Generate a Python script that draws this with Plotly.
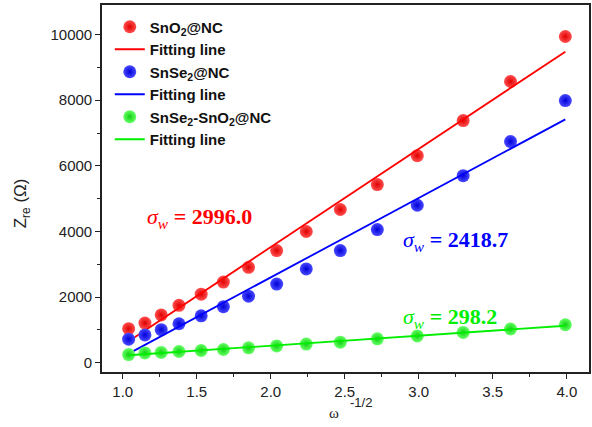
import numpy as np
import plotly.graph_objects as go

x_vals = [1.04, 1.15, 1.26, 1.38, 1.53, 1.68, 1.85, 2.04, 2.24, 2.47, 2.72, 2.99, 3.30, 3.62, 3.99]
sno2_nc = [1040, 1210, 1460, 1750, 2090, 2460, 2910, 3420, 4000, 4670, 5430, 6310, 7380, 8570, 9940]
snse2_nc = [720, 850, 1010, 1190, 1430, 1710, 2030, 2400, 2860, 3420, 4060, 4800, 5700, 6740, 7990]
snse2_sno2_nc = [250, 300, 315, 345, 375, 405, 455, 515, 570, 630, 730, 820, 925, 1030, 1160]

names = ["SnO<sub>2</sub>@NC", "SnSe<sub>2</sub>@NC", "SnSe<sub>2</sub>-SnO<sub>2</sub>@NC"]
sigma_labels = ["2996.0", "2418.7", "298.2"]
sigma_pos_x = [1.52, 3.25, 3.21]
sigma_pos_y = [4420, 3720, 1360]

colors = ["#ff0000", "#0000ff", "#00ee00"]
centers = ["#ff5050", "#4a4aff", "#66ff66"]
edges = ["#e00000", "#0000d8", "#12d012"]

fig = go.Figure()
xa = np.array(x_vals)
for name, ys, col, cen, edg in zip(names, [sno2_nc, snse2_nc, snse2_sno2_nc], colors, centers, edges):
    fig.add_trace(go.Scatter(
        x=x_vals, y=ys, mode="markers", name=name,
        marker=dict(size=13, color=cen, gradient=dict(type="radial", color=edg), line=dict(width=0)),
    ))
    k, b = np.polyfit(xa, np.array(ys, dtype=float), 1)
    xl = np.array([xa[0], xa[-1]])
    fig.add_trace(go.Scatter(
        x=xl, y=k * xl + b, mode="lines", name="Fitting line",
        line=dict(color=col, width=1.8),
    ))

for lab, px, py, col in zip(sigma_labels, sigma_pos_x, sigma_pos_y, colors):
    fig.add_annotation(
        x=px, y=py, xref="x", yref="y", showarrow=False,
        text=f"<i>σ<sub>w</sub></i><b> = {lab}</b>",
        font=dict(family="Liberation Serif", size=22, color=col),
    )

# axis titles as annotations (positioned like the reference)
fig.add_annotation(
    x=-0.164, y=0.46, xref="paper", yref="paper", showarrow=False, textangle=-90,
    xanchor="center", yanchor="middle",
    text="Z<sub>re</sub> (Ω)", font=dict(family="Liberation Sans", size=17, color="#222222"),
)
fig.add_annotation(
    x=0.476, y=-0.112, xref="paper", yref="paper", showarrow=False,
    xanchor="center", yanchor="middle",
    text="ω", font=dict(family="Liberation Serif", size=15, color="#222222"),
)
fig.add_annotation(
    x=0.532, y=-0.082, xref="paper", yref="paper", showarrow=False,
    xanchor="center", yanchor="middle",
    text="-1/2", font=dict(family="Liberation Sans", size=13, color="#222222"),
)

axis_common = dict(
    showgrid=False, zeroline=False, showline=True, linecolor="#222222", linewidth=1.6,
    mirror=True, ticks="outside", ticklen=5, tickwidth=1.3, tickcolor="#222222",
    tickfont=dict(family="Liberation Sans", size=15, color="#222222"),
)

fig.update_xaxes(
    range=[0.86, 4.15], tick0=1.0, dtick=0.5, tickformat=".1f",
    minor=dict(ticks="outside", ticklen=3, dtick=0.25, tick0=1.0, tickcolor="#222222"),
    **axis_common,
)
fig.update_yaxes(
    range=[-280, 10900], tick0=0, dtick=2000, tickformat="d",
    minor=dict(ticks="outside", ticklen=3, dtick=1000, tick0=0, tickcolor="#222222"),
    **axis_common,
)

fig.update_layout(
    width=592, height=427,
    margin=dict(l=102, r=1, t=5, b=55),
    plot_bgcolor="white", paper_bgcolor="white",
    showlegend=True,
    legend=dict(
        x=0.016, y=0.985, xanchor="left", yanchor="top",
        font=dict(family="Liberation Sans", size=15, color="#111111", weight="bold"),
        bgcolor="rgba(0,0,0,0)", tracegroupgap=0,
    ),
)

fig.write_html("out.html")
